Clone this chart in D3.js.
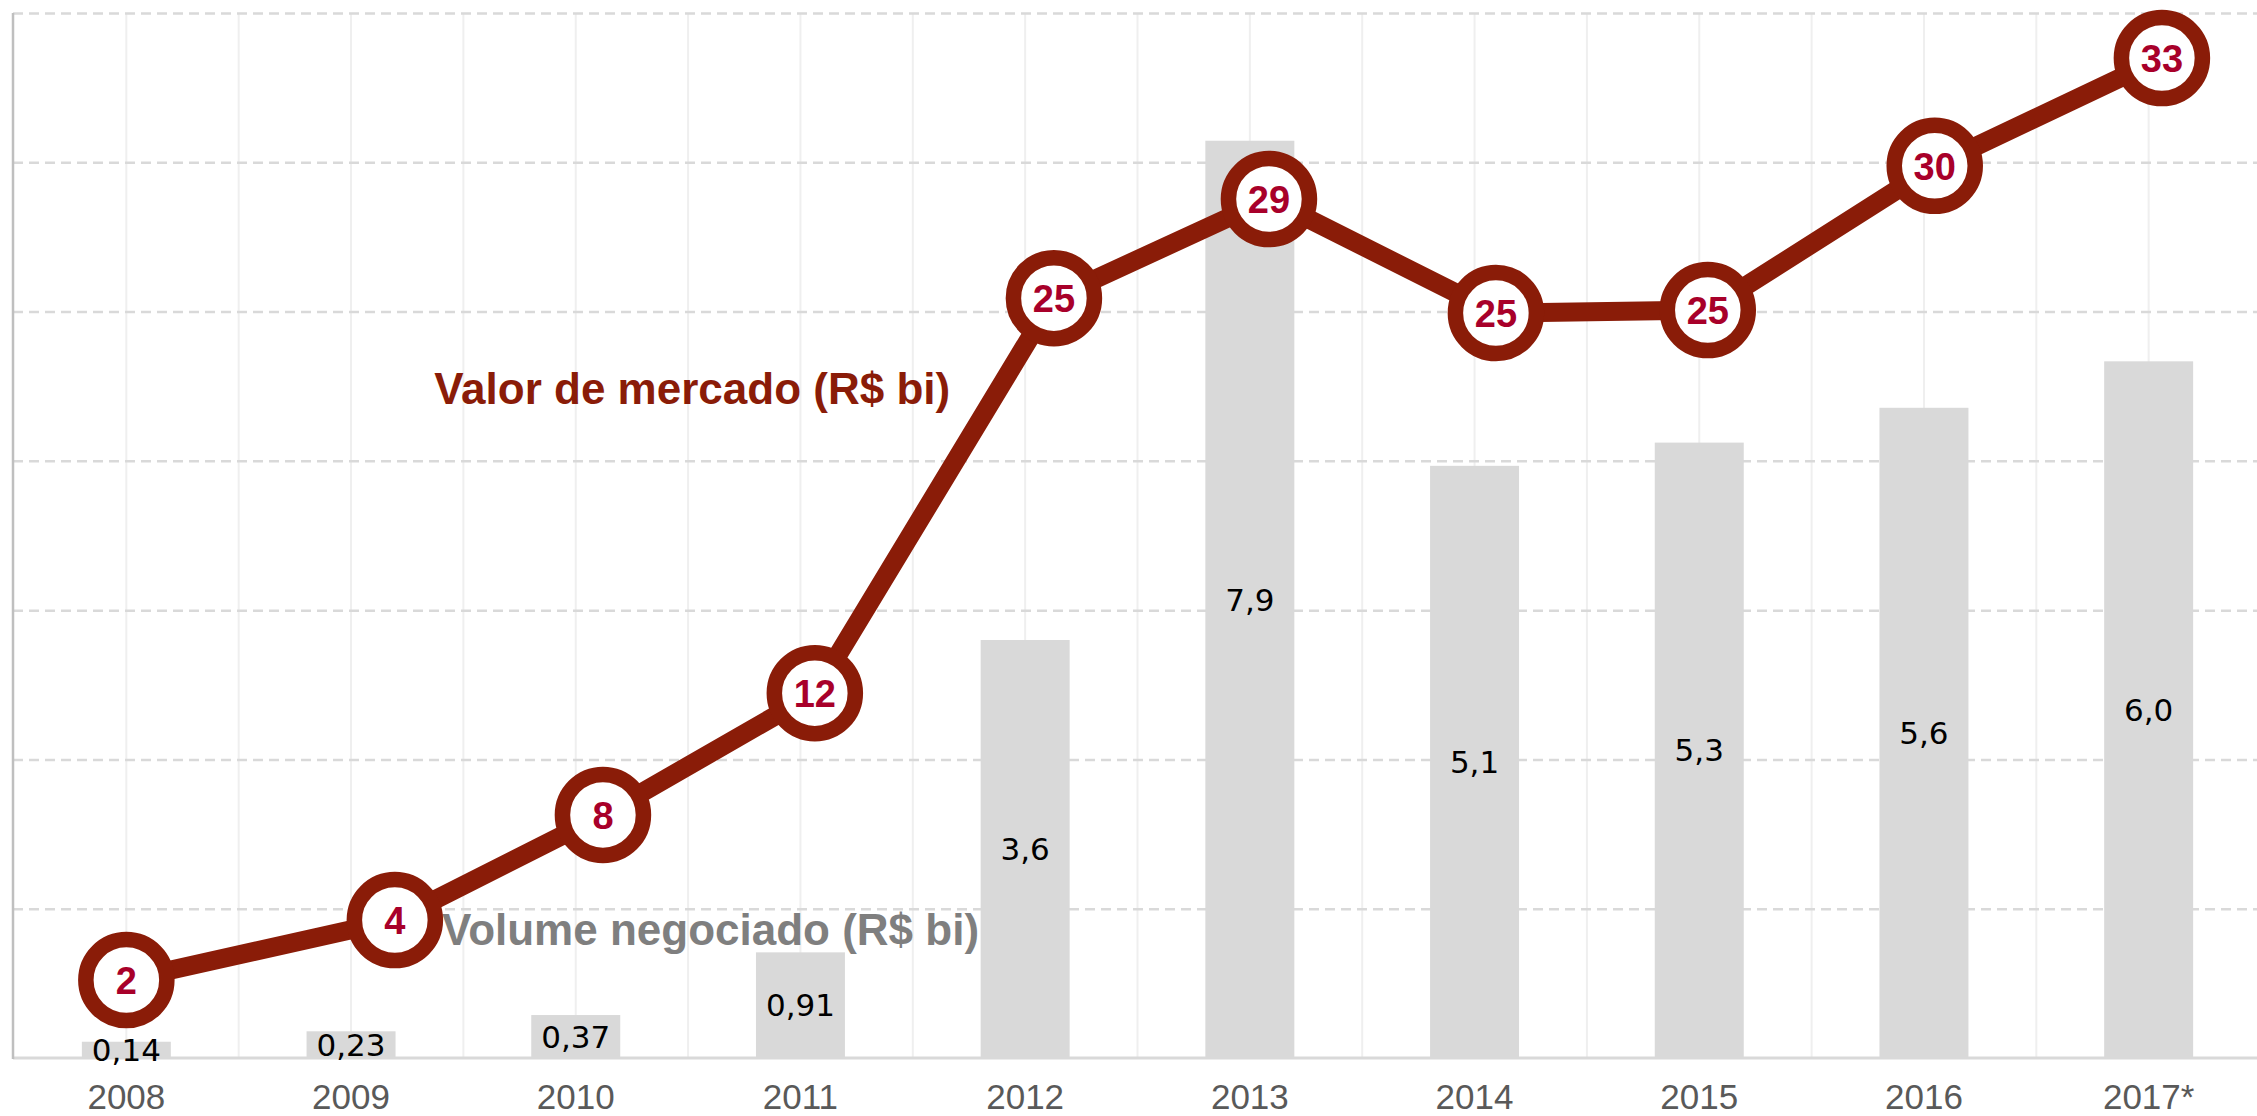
<!DOCTYPE html>
<html>
<head>
<meta charset="utf-8">
<script src="https://cdn.jsdelivr.net/npm/d3@7"></script>
<style>
  html, body { margin: 0; padding: 0; background: #ffffff; }
  svg { display: block; }
</style>
</head>
<body>
<svg id="chart" width="2257" height="1116"></svg>
<script>
// ---- data ----
const years = ["2008", "2009", "2010", "2011", "2012", "2013", "2014", "2015", "2016", "2017*"];
const volume = [0.14, 0.23, 0.37, 0.91, 3.6, 7.9, 5.1, 5.3, 5.6, 6.0];          // Volume negociado (R$ bi)
const valor = [2.61, 4.62, 8.14, 12.22, 25.45, 28.77, 24.95, 25.05, 29.88, 33.49]; // Valor de mercado (R$ bi), as drawn
const valorLabels = ["2", "4", "8", "12", "25", "29", "25", "25", "30", "33"];
const valorPos = [0, 1.195, 2.121, 3.064, 4.128, 5.085, 6.095, 7.038, 8.048, 9.059]; // line points, in category units
const gridTicks = [5, 10, 15, 20, 25, 30, 35];

(function () {
const W = 2257, H = 1116;
const mLeft = 13, mTop = 13, mBottom = 1058, mRight = 2261;

const svg = d3.select("#chart");

const x = d3.scaleBand().domain(years).range([mLeft + 1, mRight])
  .paddingInner(0.604).paddingOuter(0.302);
const step = x.step();
const cx = d => x(d) + x.bandwidth() / 2;

const yBar = d3.scaleLinear().domain([0, 9]).range([mBottom, mTop]);
const yLine = d3.scaleLinear().domain([0, 35]).range([mBottom, mTop]);
const xLine = d3.scaleLinear().domain([0, years.length - 1]).range([cx(years[0]), cx(years[years.length - 1])]);

const fmtLocale = d3.formatLocale({ decimal: ",", thousands: ".", grouping: [3], currency: ["R$", ""] });
const f2 = fmtLocale.format(".2f"), f1 = fmtLocale.format(".1f");
const volFmt = v => v < 1 ? f2(v) : f1(v);

const FONT = "'Liberation Sans', Arial, sans-serif";
const RED = "#8a1c08";
const CRIMSON = "#a8002a";

// vertical gridlines: at category centres and category boundaries
const vLines = [];
years.forEach((d, i) => {
  vLines.push(cx(d));
  if (i > 0) vLines.push(x(d) - step * x.paddingInner() / 2);
});
svg.append("g").selectAll("line").data(vLines).join("line")
  .attr("x1", d => d).attr("x2", d => d)
  .attr("y1", mTop).attr("y2", mBottom)
  .attr("stroke", "#efefef").attr("stroke-width", 2);

// horizontal dashed gridlines
svg.append("g").selectAll("line").data(gridTicks).join("line")
  .attr("x1", mLeft).attr("x2", W)
  .attr("y1", d => yLine(d) + 0.5).attr("y2", d => yLine(d) + 0.5)
  .attr("stroke", "#d9d9d9").attr("stroke-width", 2.5)
  .attr("stroke-dasharray", "10,6");

// bars
svg.append("g").selectAll("rect").data(years).join("rect")
  .attr("x", d => x(d))
  .attr("width", x.bandwidth())
  .attr("y", (d, i) => yBar(volume[i]))
  .attr("height", (d, i) => mBottom - yBar(volume[i]))
  .attr("fill", "#d9d9d9");

// axes lines
svg.append("line").attr("x1", mLeft).attr("x2", W).attr("y1", mBottom).attr("y2", mBottom)
  .attr("stroke", "#d9d9d9").attr("stroke-width", 3);
svg.append("line").attr("x1", mLeft).attr("x2", mLeft).attr("y1", mTop).attr("y2", mBottom + 1)
  .attr("stroke", "#bfbfbf").attr("stroke-width", 2.5);

// x axis labels
const xAxis = d3.axisBottom(x).tickSize(0).tickPadding(0);
const gx = svg.append("g").attr("transform", `translate(0,${mBottom})`).call(xAxis);
gx.select(".domain").remove();
gx.selectAll("text")
  .attr("y", 51).attr("dy", 0)
  .attr("font-family", FONT).attr("font-size", 35)
  .attr("fill", "#595959");

// bar value labels
svg.append("g").selectAll("text").data(years).join("text")
  .attr("x", d => cx(d))
  .attr("y", (d, i) => (yBar(volume[i]) + mBottom) / 2)
  .attr("dy", "0.36em")
  .attr("text-anchor", "middle")
  .attr("font-family", "'DejaVu Sans', sans-serif").attr("font-size", 31)
  .attr("fill", "#000000")
  .text((d, i) => volFmt(volume[i]));

// series annotations
svg.append("text")
  .attr("x", cx(years[4]) - 75).attr("y", yLine(21.9))
  .attr("text-anchor", "end")
  .attr("font-family", FONT).attr("font-weight", "bold").attr("font-size", 44)
  .attr("fill", RED)
  .text("Valor de mercado (R$ bi)");

svg.append("text")
  .attr("x", cx(years[1]) + 91).attr("y", yLine(3.8))
  .attr("text-anchor", "start")
  .attr("font-family", FONT).attr("font-weight", "bold").attr("font-size", 44)
  .attr("fill", "#7f7f7f")
  .text("Volume negociado (R$ bi)");

// line
const pts = valor.map((v, i) => [xLine(valorPos[i]), yLine(v)]);
svg.append("path")
  .attr("d", d3.line()(pts))
  .attr("fill", "none").attr("stroke", RED).attr("stroke-width", 19)
  .attr("stroke-linejoin", "round");

// markers
const mk = svg.append("g").selectAll("g").data(pts).join("g")
  .attr("transform", d => `translate(${d[0]},${d[1]})`);
mk.append("circle").attr("r", 40.5)
  .attr("fill", "#ffffff").attr("stroke", RED).attr("stroke-width", 15.5);
mk.append("text")
  .attr("text-anchor", "middle").attr("dy", "0.36em")
  .attr("font-family", FONT).attr("font-weight", "bold").attr("font-size", 38)
  .attr("fill", CRIMSON)
  .text((d, i) => valorLabels[i]);
})();
</script>
</body>
</html>
